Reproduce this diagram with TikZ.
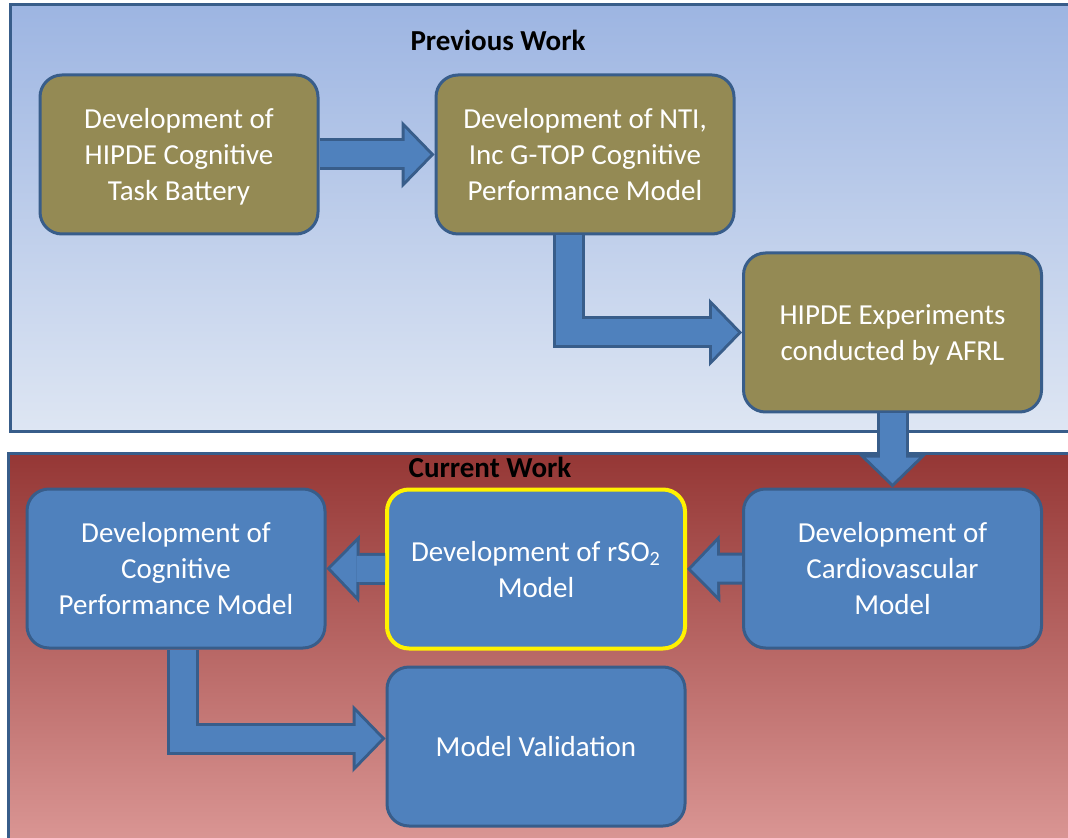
\documentclass[tikz,border=0pt]{standalone}
\usepackage{fontspec}
\setmainfont{Carlito}
\usetikzlibrary{arrows.meta,calc}
\definecolor{edgeblue}{HTML}{385D8A}
\definecolor{stageolive}{HTML}{948A54}
\definecolor{stageblue}{HTML}{4F81BD}
\tikzset{every node/.style={font=\fontsize{14.5}{18}\selectfont},
  stage/.style={draw=edgeblue,line width=1.5pt,rounded corners=11pt,text=white,align=center,minimum width=149pt,minimum height=79.5pt,inner sep=2pt,text depth=-1pt},
  oldstage/.style={stage,fill=stageolive},newstage/.style={stage,fill=stageblue},
  flow/.style={line width=16pt,draw=edgeblue,-{Triangle[length=16.5pt,width=34pt,line width=0pt 0]},
    postaction={draw=stageblue,line width=13pt,shorten >=2.1pt,-{Triangle[length=12.9pt,width=26.6pt,line width=0pt 0]}}}}

\begin{document}
\begin{tikzpicture}[x=0.5pt,y=-0.5pt]
\useasboundingbox (0,0) rectangle (1068,838);\clip (0,0) rectangle (1068,838);
% the two work panels
\draw[edgeblue,line width=1.5pt,top color={rgb,255:red,157;green,181;blue,226},bottom color={rgb,255:red,222;green,230;blue,243}] (10,5) rectangle (1090,432);
\draw[edgeblue,line width=1.5pt,top color={rgb,255:red,149;green,55;blue,53},bottom color={rgb,255:red,218;green,150;blue,148}] (8,453) rectangle (1090,842);
\node (prevtitle) at (498,40){\bfseries Previous Work};
\node (curtitle) at (490,467){\bfseries Current Work};
\node[oldstage,minimum width=139pt] (battery) at (179,154.5){Development of\\HIPDE Cognitive\\Task Battery};
\node[oldstage] (gtop) at (585,154.5){Development of NTI,\\Inc G-TOP Cognitive\\Performance Model};
\node[oldstage] (afrl) at (892.5,332.5){HIPDE Experiments\\conducted by AFRL};
\node[newstage] (cardio) at (892.5,568.5){Development of\\Cardiovascular\\Model};
\node[newstage,draw=yellow,line width=2pt] (rso) at (536,569){Development of rSO\textsubscript{2}\\Model};
\node[newstage] (cogperf) at (176,568.5){Development of\\Cognitive\\Performance Model};
\node[newstage] (valid) at (536,746.5){Model Validation};
\draw[flow] (battery.east)--(gtop.west);
\draw[flow] ($(gtop.south)+(-16,0)$) |- (afrl.west);
\draw[flow] (afrl.south)--(cardio.north);
\draw[flow] (cardio.west)--(rso.east);\draw[flow] (rso.west)--(cogperf.east);
\draw[flow] ($(cogperf.south)+(7,0)$) |- ($(valid.west)+(0,-8)$);
\end{tikzpicture}
\end{document}
